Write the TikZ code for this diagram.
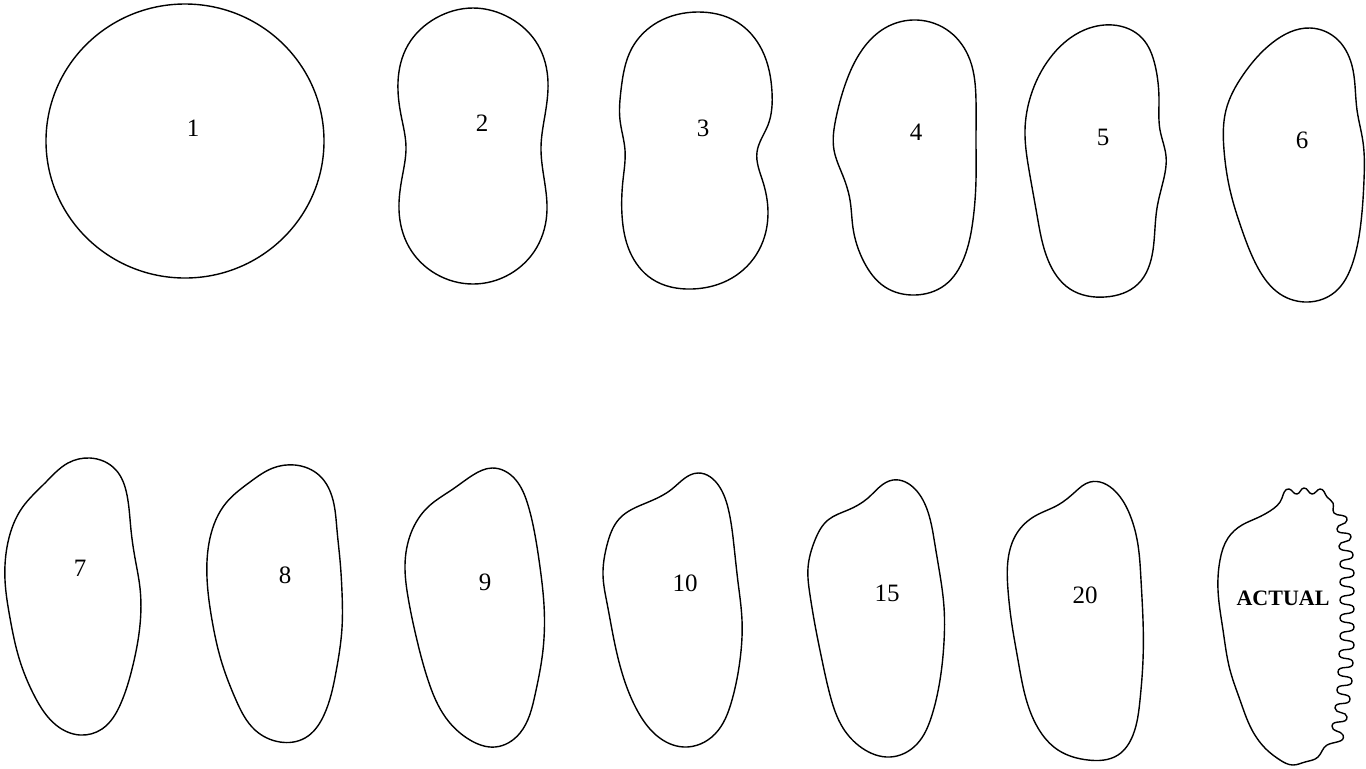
\documentclass[tikz,border=0pt]{standalone}
\usepackage{fontspec}
\setmainfont{Liberation Serif}
\usepackage{tikz}
\usetikzlibrary{positioning,hobby}

\begin{document}
\begin{tikzpicture}[x=0.5pt,y=-0.5pt,
  outline/.style={line width=0.7pt,line join=round,use Hobby shortcut,closed=true},
  lbl/.style={font=\fontsize{12.5}{14}\selectfont,inner sep=0pt}]
  \useasboundingbox(0,0)rectangle(1366,768);
  % first row: 1 to 6 terms
  \draw[line width=0.7pt](185,141)ellipse[x radius=139,y radius=137];
  \draw[outline](473,8)..(510,18)..(538,45)..(548,82)..(545,115)..(541,147)..(544,178)..(547,210)..(537,247)..(510,274)..(473,284)..(436,274)..(409,247)..(399,210)..(402,178)..(406,147)..(401,115)..(398,82)..(408,45)..(436,18);
  \draw[outline](697,12)..(737,22)..(762,50)..(772,92)..(768,125)..(757,152)..(763,182)..(768,212)..(759,250)..(732,278)..(692,289)..(652,279)..(630,252)..(622,215)..(623,180)..(625,150)..(620,120)..(621,90)..(632,48)..(658,22);
  \draw[outline](917,20)..(950,32)..(970,60)..(976,100)..(976,140)..(976,180)..(973,220)..(964,258)..(945,285)..(915,295)..(885,287)..(864,262)..(853,228)..(850,200)..(843,176)..(834,150)..(836,118)..(845,85)..(862,50)..(885,28);
  \draw[outline](1113,25)..(1142,38)..(1155,65)..(1159,100)..(1160,130)..(1166,156)..(1163,182)..(1157,208)..(1153,250)..(1138,284)..(1105,297)..(1070,289)..(1048,260)..(1037,215)..(1029,170)..(1025,130)..(1031,95)..(1050,58)..(1080,32);
  \draw[outline](1310,28)..(1338,40)..(1353,70)..(1357,110)..(1363,142)..(1364,180)..(1361,222)..(1353,262)..(1335,292)..(1308,302)..(1280,294)..(1258,268)..(1242,230)..(1230,190)..(1224,150)..(1226,110)..(1243,75)..(1272,43);
  \node[lbl](n1)at(193,128){1};
  \node[lbl](n2)at(482,123){2};
  \node[lbl](n3)at(703,128){3};
  \node[lbl](n4)at(916,132){4};
  \node[lbl](n5)at(1103,137){5};
  \node[lbl](n6)at(1302,140){6};
  % second row: 7 to 20 terms, then the actual outline
  \draw[outline](90,458)..(116,470)..(127,495)..(131,530)..(135,558)..(140,588)..(140,625)..(133,665)..(121,703)..(102,729)..(80,735)..(56,725)..(35,697)..(19,658)..(10,618)..(5,580)..(8,542)..(22,508)..(46,482)..(68,463);
  \draw[outline](295,465)..(320,476)..(333,500)..(337,530)..(340,560)..(342,592)..(342,628)..(336,672)..(324,715)..(305,738)..(280,742)..(255,730)..(236,700)..(221,660)..(212,620)..(207,578)..(210,538)..(226,503)..(250,482)..(273,468);
  \draw[outline](492,468)..(515,479)..(528,505)..(535,535)..(540,567)..(544,605)..(543,650)..(535,695)..(520,733)..(495,747)..(470,740)..(446,718)..(428,680)..(416,636)..(408,597)..(405,565)..(411,533)..(428,507)..(453,489)..(473,475);
  \draw[outline](698,473)..(719,486)..(729,512)..(734,546)..(738,582)..(742,620)..(740,660)..(732,700)..(715,734)..(684,747)..(656,735)..(637,710)..(623,676)..(614,640)..(607,603)..(603,575)..(607,545)..(620,518)..(646,503)..(672,489);
  \draw[outline](893,480)..(915,489)..(928,512)..(935,545)..(940,575)..(944,607)..(944,642)..(940,680)..(932,715)..(917,744)..(890,757)..(862,748)..(843,728)..(830,695)..(822,660)..(815,625)..(810,595)..(808,568)..(815,540)..(828,520)..(848,510)..(868,498);
  \draw[outline](1090,482)..(1115,491)..(1130,515)..(1138,545)..(1141,580)..(1143,620)..(1143,660)..(1140,700)..(1133,735)..(1118,755)..(1088,760)..(1058,750)..(1038,728)..(1025,695)..(1018,660)..(1012,625)..(1008,590)..(1008,560)..(1017,533)..(1035,516)..(1058,505)..(1075,492);
  \draw[outline](1282,498)..(1289,489)..(1297,494)..(1304,488)..(1312,494)..(1320,489)..(1327,497)..(1333,503)
    ..(1334,513)..(1347,520)..(1337,529)..(1351,537)..(1339,546)..(1353,555)..(1340,564)..(1354,573)..(1340,582)..(1354,591)..(1340,600)..(1354,609)..(1340,618)..(1354,627)..(1340,636)..(1354,645)..(1339,654)..(1353,663)..(1338,672)..(1352,681)..(1337,690)..(1350,699)..(1335,708)..(1347,717)..(1332,726)..(1343,735)..(1327,745)
    ..(1318,757)..(1305,762)..(1293,765)..(1280,760)..(1267,750)..(1252,730)..(1240,700)..(1230,670)..(1223,630)..(1218,590)..(1220,560)..(1228,538)..(1242,525)..(1257,518)..(1270,511);
  \node[lbl](n7)at(80,568){7};
  \node[lbl](n8)at(285,575){8};
  \node[lbl](n9)at(485,582){9};
  \node[lbl](n10)at(685,583){10};
  \node[lbl](n15)at(887,593){15};
  \node[lbl](n20)at(1085,595){20};
  \node[lbl,font=\fontsize{11}{13}\selectfont\bfseries](actual)at(1283,598){ACTUAL};
\end{tikzpicture}
\end{document}
